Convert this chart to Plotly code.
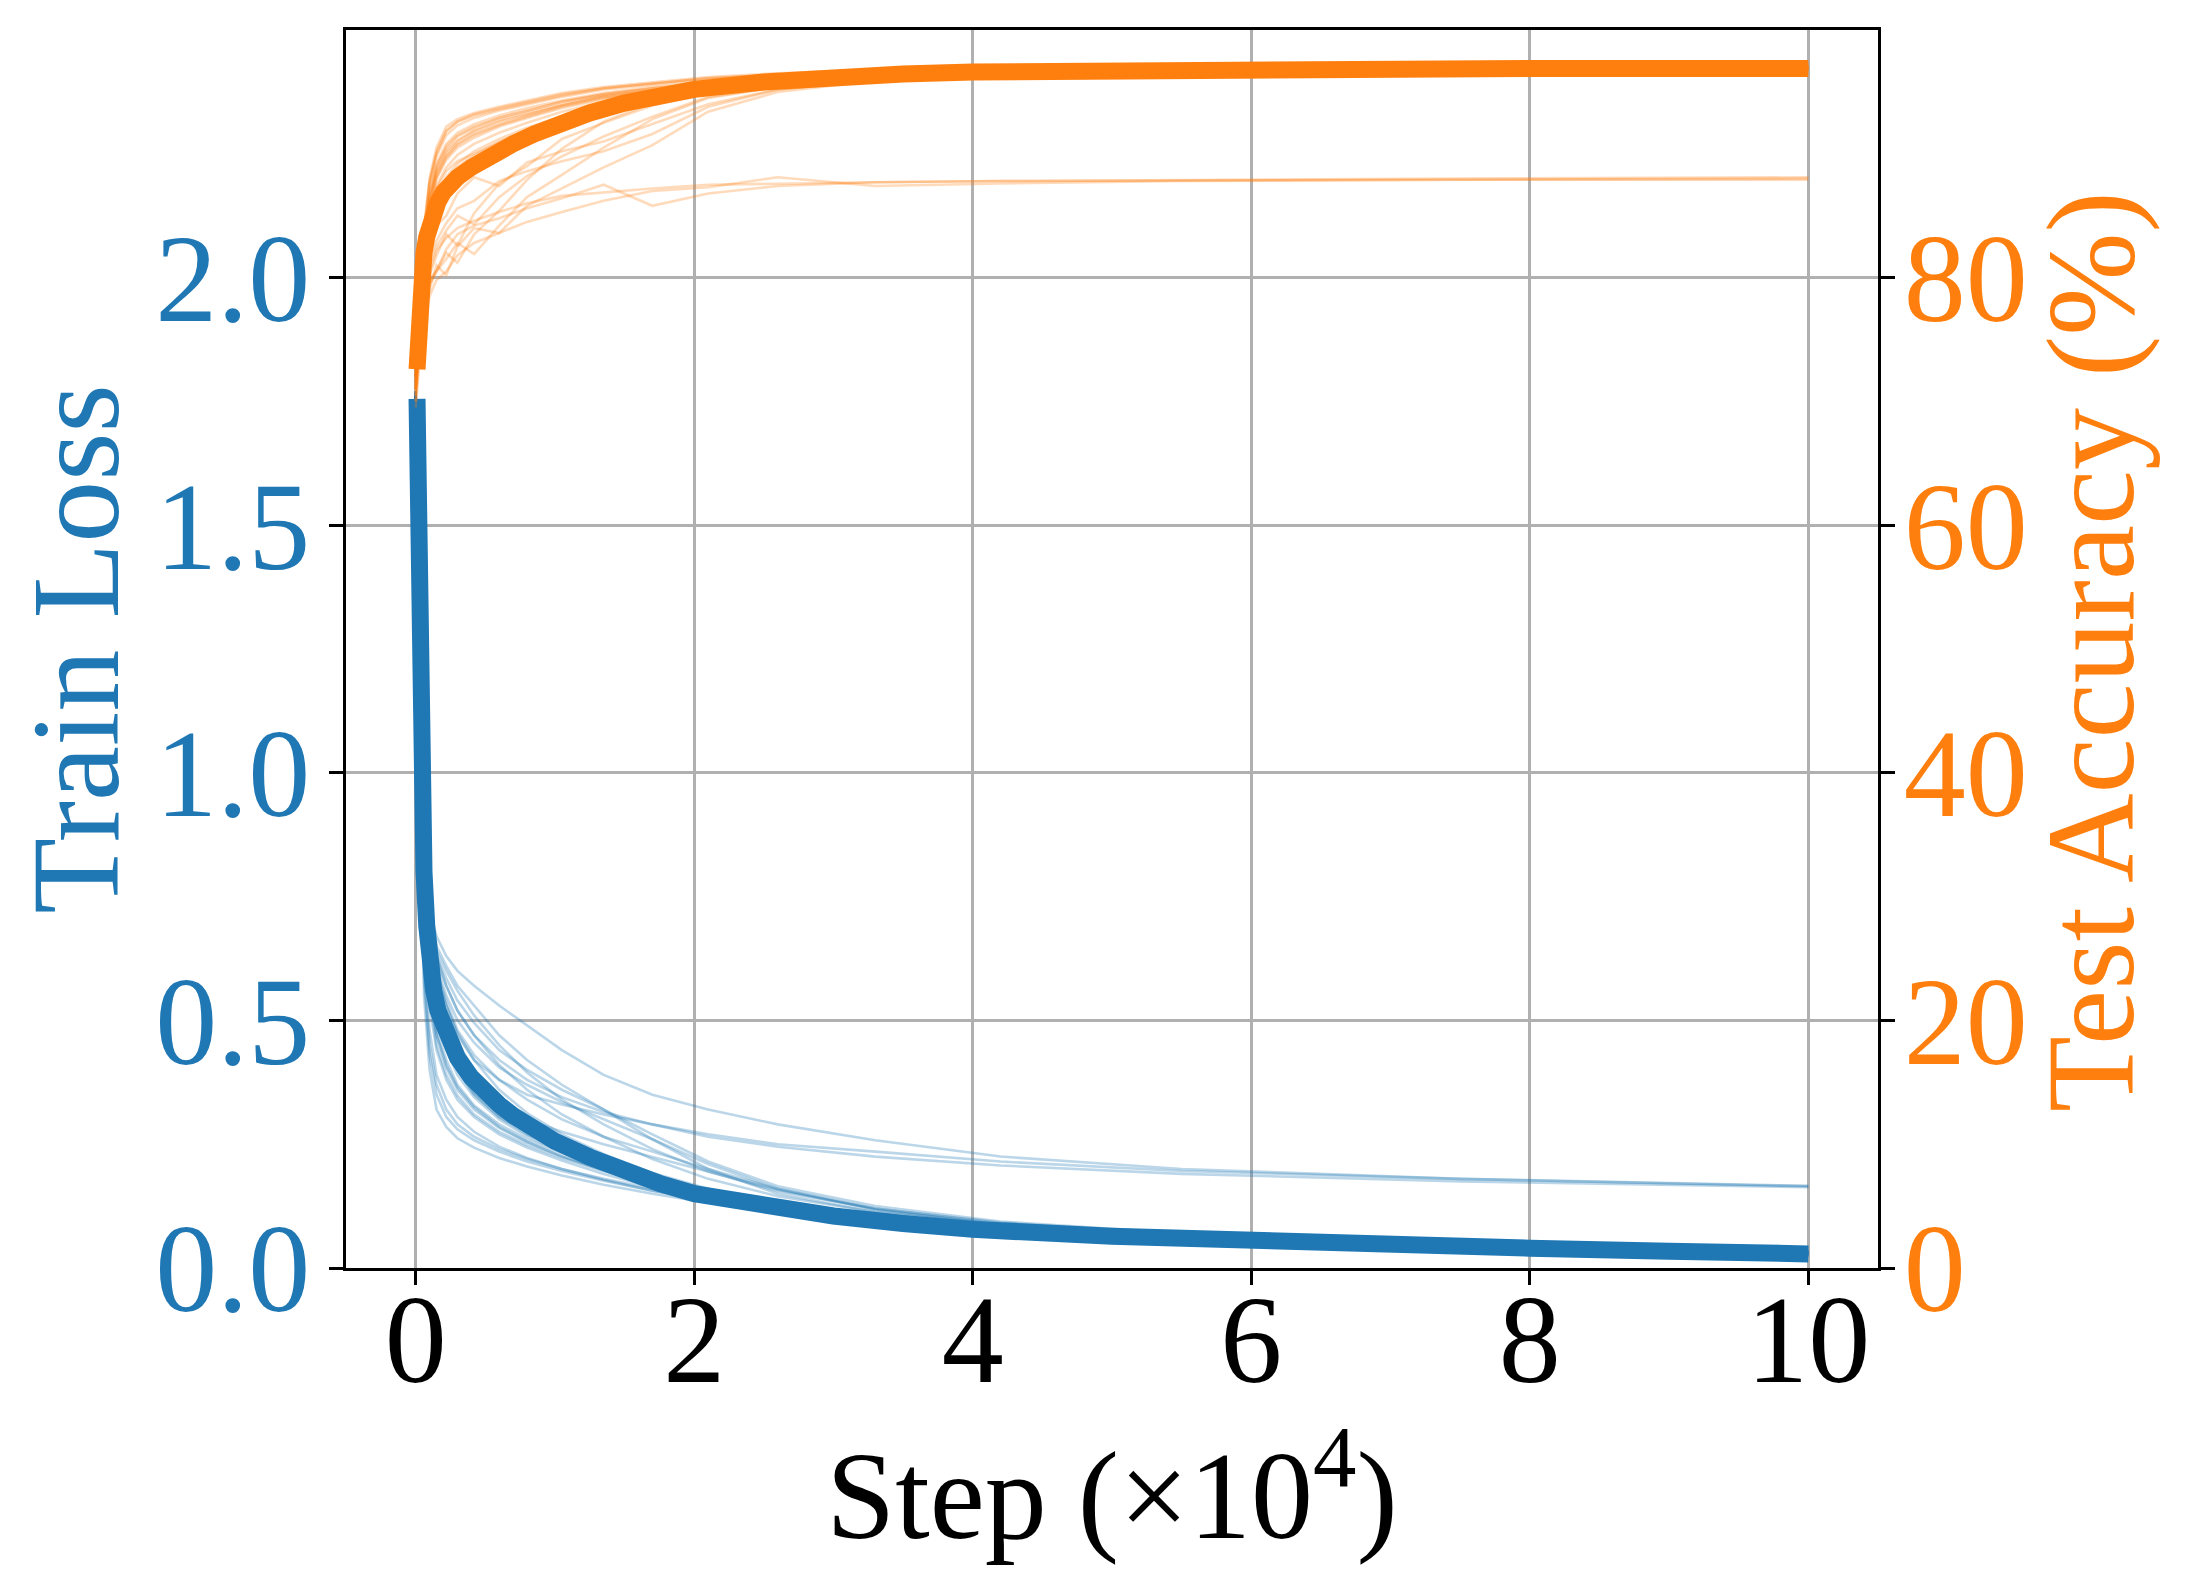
import plotly.graph_objects as go

# ---------------- data ----------------
# x positions (steps, in units of 1e4) for the averaged curves
STEP_MEAN = [0.01, 0.02, 0.03, 0.04, 0.05, 0.06, 0.08, 0.1, 0.13, 0.16, 0.2, 0.25, 0.3, 0.4, 0.5,
             0.6, 0.7, 0.85, 1.0, 1.25, 1.5, 1.75, 2.0, 2.5, 3.0, 3.5, 4.0, 5.0, 6.0, 7.0, 8.0, 9.0, 10.0]
LOSS_MEAN = [1.755, 1.45, 1.22, 1.03, 0.90, 0.80, 0.69, 0.62, 0.56, 0.52, 0.485, 0.45, 0.425, 0.385, 0.355,
             0.33, 0.308, 0.28, 0.256, 0.224, 0.196, 0.171, 0.15, 0.124, 0.105, 0.09, 0.078, 0.064, 0.054,
             0.046, 0.040, 0.034, 0.0285]
ACC_MEAN = [72.6, 75.5, 77.8, 79.6, 81.0, 82.0, 83.3, 84.2, 85.3, 86.1, 86.9, 87.6, 88.1, 88.9, 89.6,
            90.2, 90.8, 91.6, 92.3, 93.3, 94.1, 94.7, 95.2, 95.8, 96.2, 96.45, 96.6, 96.75, 96.8,
            96.85, 96.9, 96.9, 96.9]

# x positions for the individual runs
STEP_RUN = [0.0, 0.03, 0.06, 0.1, 0.15, 0.22, 0.3, 0.42, 0.6, 0.8, 1.05, 1.35, 1.7, 2.1,
            2.6, 3.3, 4.2, 5.5, 7.5, 10.0]

# individual runs: train loss
LOSS_RUNS_TYPICAL = [
    [1.76, 1.10, 0.55, 0.40, 0.32, 0.285, 0.262, 0.243, 0.222, 0.205, 0.187, 0.168, 0.150, 0.132, 0.112, 0.090, 0.068, 0.050, 0.036, 0.024],
    [1.75, 1.15, 0.62, 0.48, 0.39, 0.340, 0.305, 0.275, 0.245, 0.222, 0.200, 0.178, 0.156, 0.136, 0.115, 0.092, 0.070, 0.052, 0.037, 0.025],
    [1.77, 1.20, 0.68, 0.53, 0.44, 0.380, 0.340, 0.305, 0.270, 0.243, 0.217, 0.190, 0.163, 0.140, 0.118, 0.095, 0.073, 0.055, 0.039, 0.027],
    [1.76, 1.25, 0.72, 0.56, 0.47, 0.410, 0.365, 0.325, 0.285, 0.255, 0.225, 0.196, 0.168, 0.144, 0.121, 0.097, 0.075, 0.056, 0.040, 0.028],
    [1.76, 1.28, 0.76, 0.60, 0.50, 0.440, 0.390, 0.345, 0.300, 0.266, 0.234, 0.203, 0.173, 0.147, 0.123, 0.099, 0.077, 0.058, 0.042, 0.029],
    [1.75, 1.30, 0.80, 0.62, 0.52, 0.460, 0.410, 0.360, 0.310, 0.275, 0.240, 0.207, 0.176, 0.150, 0.125, 0.100, 0.078, 0.059, 0.043, 0.030],
    [1.77, 1.32, 0.82, 0.64, 0.55, 0.490, 0.430, 0.380, 0.330, 0.290, 0.253, 0.218, 0.184, 0.155, 0.128, 0.102, 0.079, 0.060, 0.044, 0.031],
    [1.76, 1.33, 0.84, 0.66, 0.57, 0.510, 0.455, 0.400, 0.345, 0.302, 0.262, 0.224, 0.188, 0.158, 0.130, 0.104, 0.081, 0.062, 0.045, 0.032],
    [1.76, 1.35, 0.86, 0.68, 0.59, 0.530, 0.475, 0.420, 0.360, 0.313, 0.270, 0.230, 0.192, 0.160, 0.132, 0.106, 0.083, 0.064, 0.047, 0.034],
    [1.75, 1.30, 0.80, 0.63, 0.54, 0.470, 0.400, 0.350, 0.305, 0.275, 0.245, 0.213, 0.182, 0.156, 0.130, 0.105, 0.082, 0.063, 0.046, 0.033],
    [1.77, 1.25, 0.74, 0.58, 0.48, 0.420, 0.370, 0.328, 0.290, 0.260, 0.232, 0.205, 0.178, 0.153, 0.127, 0.100, 0.076, 0.056, 0.040, 0.027],
    [1.76, 1.22, 0.70, 0.55, 0.45, 0.390, 0.348, 0.310, 0.275, 0.248, 0.222, 0.197, 0.171, 0.148, 0.124, 0.098, 0.074, 0.054, 0.038, 0.026],
    [1.76, 1.18, 0.60, 0.45, 0.37, 0.320, 0.290, 0.265, 0.240, 0.220, 0.200, 0.180, 0.160, 0.140, 0.119, 0.095, 0.072, 0.053, 0.038, 0.026],
    [1.75, 1.27, 0.75, 0.59, 0.50, 0.445, 0.400, 0.355, 0.310, 0.272, 0.238, 0.206, 0.176, 0.150, 0.126, 0.101, 0.079, 0.060, 0.044, 0.031],
    [1.76, 1.31, 0.81, 0.65, 0.56, 0.500, 0.445, 0.390, 0.335, 0.295, 0.257, 0.221, 0.186, 0.157, 0.129, 0.103, 0.080, 0.061, 0.045, 0.032],
    [1.77, 1.29, 0.78, 0.61, 0.51, 0.450, 0.400, 0.352, 0.305, 0.270, 0.237, 0.205, 0.175, 0.149, 0.124, 0.099, 0.077, 0.058, 0.042, 0.029],
    [1.76, 1.24, 0.73, 0.57, 0.47, 0.405, 0.360, 0.320, 0.283, 0.254, 0.226, 0.199, 0.172, 0.148, 0.124, 0.099, 0.076, 0.057, 0.041, 0.028],
    [1.76, 1.14, 0.58, 0.43, 0.35, 0.305, 0.280, 0.258, 0.235, 0.215, 0.196, 0.176, 0.156, 0.137, 0.117, 0.094, 0.071, 0.052, 0.037, 0.025],
]
LOSS_RUNS_SLOW = [
    [1.76, 1.38, 0.90, 0.71, 0.64, 0.600, 0.560, 0.510, 0.450, 0.395, 0.340, 0.290, 0.240, 0.195, 0.155, 0.120, 0.092, 0.068, 0.048, 0.033],
    [1.77, 1.37, 0.88, 0.70, 0.62, 0.570, 0.520, 0.470, 0.410, 0.360, 0.310, 0.265, 0.220, 0.180, 0.145, 0.113, 0.087, 0.065, 0.046, 0.032],
    [1.76, 1.36, 0.89, 0.70, 0.63, 0.585, 0.540, 0.495, 0.440, 0.400, 0.360, 0.320, 0.270, 0.215, 0.165, 0.125, 0.094, 0.070, 0.050, 0.035],
    [1.75, 1.35, 0.87, 0.69, 0.60, 0.540, 0.480, 0.430, 0.380, 0.340, 0.300, 0.265, 0.235, 0.200, 0.160, 0.120, 0.090, 0.066, 0.047, 0.033],
    [1.76, 1.34, 0.86, 0.68, 0.58, 0.510, 0.450, 0.390, 0.335, 0.300, 0.275, 0.250, 0.225, 0.195, 0.158, 0.118, 0.088, 0.065, 0.046, 0.032],
    [1.76, 1.37, 0.89, 0.70, 0.61, 0.550, 0.500, 0.455, 0.405, 0.370, 0.335, 0.300, 0.260, 0.210, 0.160, 0.118, 0.088, 0.065, 0.046, 0.032],
    [1.77, 1.38, 0.90, 0.71, 0.65, 0.610, 0.570, 0.530, 0.470, 0.420, 0.370, 0.320, 0.260, 0.200, 0.150, 0.113, 0.086, 0.064, 0.046, 0.032],
]
LOSS_RUNS_PLATEAU = [
    [1.76, 1.39, 0.92, 0.72, 0.67, 0.630, 0.600, 0.570, 0.530, 0.490, 0.440, 0.390, 0.350, 0.320, 0.290, 0.258, 0.225, 0.200, 0.180, 0.166],
    [1.77, 1.37, 0.90, 0.70, 0.63, 0.570, 0.520, 0.470, 0.420, 0.380, 0.345, 0.315, 0.290, 0.270, 0.250, 0.235, 0.215, 0.196, 0.180, 0.165],
    [1.76, 1.36, 0.88, 0.69, 0.60, 0.530, 0.470, 0.420, 0.380, 0.350, 0.330, 0.310, 0.290, 0.265, 0.245, 0.225, 0.207, 0.190, 0.175, 0.163],
]

# individual runs: test accuracy (%)
ACC_RUNS_TYPICAL = [
    [71.0, 79.0, 84.0, 88.0, 90.5, 92.2, 92.8, 93.3, 93.8, 94.3, 94.9, 95.4, 95.8, 96.2, 96.5, 96.8, 97.0, 97.1, 97.2, 97.2],
    [72.0, 78.5, 83.5, 87.5, 89.8, 91.5, 92.3, 92.9, 93.5, 94.0, 94.6, 95.2, 95.6, 96.0, 96.3, 96.6, 96.8, 97.0, 97.1, 97.1],
    [73.0, 78.0, 83.0, 86.8, 89.2, 90.8, 91.7, 92.4, 93.1, 93.7, 94.3, 94.9, 95.4, 95.8, 96.1, 96.5, 96.7, 96.9, 97.0, 97.0],
    [72.5, 77.5, 82.5, 86.2, 88.6, 90.2, 91.1, 91.9, 92.7, 93.3, 94.0, 94.7, 95.2, 95.6, 96.0, 96.4, 96.6, 96.8, 96.9, 97.0],
    [71.5, 77.0, 82.0, 85.5, 88.0, 89.5, 90.5, 91.3, 92.2, 92.9, 93.7, 94.4, 95.0, 95.5, 95.9, 96.3, 96.6, 96.8, 96.9, 96.95],
    [72.0, 77.5, 81.5, 85.0, 87.4, 88.9, 89.9, 90.8, 91.7, 92.5, 93.4, 94.2, 94.8, 95.3, 95.8, 96.2, 96.5, 96.7, 96.85, 96.9],
    [73.0, 78.0, 81.0, 84.3, 86.6, 88.1, 89.2, 90.2, 91.2, 92.1, 93.0, 93.9, 94.6, 95.2, 95.7, 96.1, 96.4, 96.6, 96.8, 96.9],
    [72.5, 77.0, 80.5, 83.5, 85.7, 87.3, 88.5, 89.6, 90.7, 91.6, 92.6, 93.6, 94.4, 95.0, 95.6, 96.0, 96.4, 96.6, 96.75, 96.85],
    [72.0, 76.5, 80.0, 82.8, 85.0, 86.6, 87.8, 89.0, 90.2, 91.2, 92.3, 93.3, 94.2, 94.9, 95.5, 96.0, 96.3, 96.6, 96.7, 96.8],
    [71.0, 77.0, 81.5, 84.8, 87.2, 88.6, 89.4, 90.0, 90.9, 91.8, 92.8, 93.7, 94.5, 95.1, 95.6, 96.1, 96.4, 96.6, 96.75, 96.8],
    [72.5, 78.0, 82.2, 85.8, 88.3, 89.8, 90.8, 91.6, 92.4, 93.1, 93.9, 94.6, 95.1, 95.6, 96.0, 96.4, 96.6, 96.8, 96.9, 96.95],
    [73.0, 78.5, 83.0, 86.5, 88.9, 90.4, 91.4, 92.1, 92.9, 93.5, 94.2, 94.8, 95.3, 95.7, 96.1, 96.5, 96.7, 96.9, 97.0, 97.05],
    [72.0, 78.8, 83.8, 87.8, 90.2, 91.9, 92.6, 93.1, 93.6, 94.1, 94.7, 95.3, 95.7, 96.1, 96.4, 96.7, 96.9, 97.05, 97.15, 97.2],
    [72.5, 77.3, 82.0, 85.7, 88.1, 89.7, 90.7, 91.5, 92.3, 93.0, 93.8, 94.5, 95.0, 95.5, 95.9, 96.3, 96.6, 96.8, 96.9, 96.95],
    [71.5, 76.8, 80.8, 84.0, 86.3, 87.8, 88.9, 89.9, 91.0, 91.9, 92.9, 93.8, 94.6, 95.2, 95.7, 96.1, 96.4, 96.6, 96.8, 96.85],
    [73.0, 77.8, 82.3, 86.0, 88.5, 90.0, 91.0, 91.8, 92.6, 93.2, 93.9, 94.6, 95.1, 95.6, 96.0, 96.4, 96.6, 96.8, 96.9, 97.0],
    [72.0, 78.2, 82.8, 86.6, 89.0, 90.6, 91.5, 92.2, 92.9, 93.5, 94.2, 94.8, 95.3, 95.8, 96.1, 96.5, 96.7, 96.9, 97.0, 97.05],
    [71.0, 78.8, 83.6, 87.6, 90.0, 91.8, 92.6, 93.2, 93.7, 94.2, 94.8, 95.3, 95.7, 96.1, 96.4, 96.7, 96.9, 97.05, 97.15, 97.15],
]
ACC_RUNS_SLOW = [
    [70.0, 75.0, 77.5, 79.5, 80.5, 81.5, 82.8, 81.9, 84.2, 86.5, 88.3, 90.5, 92.8, 94.5, 95.4, 96.0, 96.3, 96.5, 96.7, 96.8],
    [71.0, 76.0, 78.5, 80.2, 81.8, 83.5, 82.6, 85.2, 87.6, 89.0, 91.2, 92.5, 93.9, 95.0, 95.6, 96.1, 96.4, 96.6, 96.7, 96.8],
    [70.5, 75.5, 78.0, 79.0, 81.0, 80.2, 82.5, 84.0, 83.6, 85.8, 87.2, 88.9, 90.7, 93.4, 95.0, 95.9, 96.3, 96.5, 96.7, 96.8],
    [71.5, 76.5, 79.5, 81.5, 83.0, 84.4, 85.6, 86.2, 87.8, 88.6, 89.4, 90.2, 91.6, 93.8, 95.2, 95.9, 96.3, 96.5, 96.7, 96.8],
    [72.0, 77.0, 80.0, 82.5, 84.2, 85.0, 86.8, 88.1, 87.4, 89.3, 90.2, 91.0, 92.4, 94.0, 95.2, 95.9, 96.3, 96.5, 96.7, 96.8],
    [70.5, 76.0, 79.0, 81.0, 82.5, 83.8, 85.0, 84.3, 86.5, 88.2, 89.8, 91.4, 93.0, 94.6, 95.4, 96.0, 96.3, 96.5, 96.7, 96.8],
    [71.0, 75.5, 78.2, 79.8, 80.6, 82.0, 81.2, 83.5, 85.4, 87.9, 90.4, 92.6, 94.1, 95.1, 95.7, 96.1, 96.4, 96.6, 96.7, 96.8],
]
ACC_RUNS_PLATEAU = [
    [69.5, 73.5, 76.5, 78.5, 79.8, 80.5, 81.8, 82.8, 83.6, 84.5, 85.3, 86.2, 87.0, 87.3, 88.1, 87.4, 87.6, 87.8, 87.9, 88.0],
    [70.0, 74.5, 77.5, 79.5, 80.5, 82.3, 83.5, 84.2, 84.8, 85.6, 86.4, 87.5, 85.8, 86.8, 87.4, 87.7, 87.8, 87.9, 88.0, 88.1],
    [71.0, 75.0, 78.0, 80.5, 82.2, 83.2, 84.0, 84.6, 85.3, 86.0, 86.6, 86.9, 87.2, 87.5, 87.6, 87.7, 87.8, 87.85, 87.9, 87.9],
]

X_TICKS = [0, 2, 4, 6, 8, 10]
LOSS_TICKS = [0.0, 0.5, 1.0, 1.5, 2.0]
ACC_TICKS = [0, 20, 40, 60, 80]

# ---------------- style ----------------
BLUE = "#1f77b4"
ORANGE = "#ff7f0e"
BLUE_THIN = "rgba(31,119,180,0.3)"
ORANGE_THIN = "rgba(255,127,14,0.28)"
FONT = "Liberation Serif, Times New Roman, serif"
FS = 124
THIN_W = 2.6
THICK_W = 17

fig = go.Figure()

for run in LOSS_RUNS_TYPICAL + LOSS_RUNS_SLOW + LOSS_RUNS_PLATEAU:
    fig.add_trace(go.Scatter(x=STEP_RUN, y=run, mode="lines", yaxis="y",
                             line=dict(color=BLUE_THIN, width=THIN_W),
                             showlegend=False, hoverinfo="skip"))
fig.add_trace(go.Scatter(x=STEP_MEAN, y=LOSS_MEAN, mode="lines", yaxis="y",
                         line=dict(color=BLUE, width=THICK_W), name="Train Loss",
                         showlegend=False))

for run in ACC_RUNS_TYPICAL + ACC_RUNS_SLOW + ACC_RUNS_PLATEAU:
    fig.add_trace(go.Scatter(x=STEP_RUN, y=run, mode="lines", yaxis="y2",
                             line=dict(color=ORANGE_THIN, width=THIN_W),
                             showlegend=False, hoverinfo="skip"))
fig.add_trace(go.Scatter(x=STEP_MEAN, y=ACC_MEAN, mode="lines", yaxis="y2",
                         line=dict(color=ORANGE, width=THICK_W), name="Test Accuracy",
                         showlegend=False))

axis_common = dict(showline=True, linecolor="black", linewidth=3, ticks="outside",
                   ticklen=14, tickwidth=3, tickcolor="black", zeroline=False)

# the page adds an 8 px body margin, so the figure is 8 px smaller than the window
fig.update_layout(
    width=2182, height=1582,
    template="none",
    paper_bgcolor="white", plot_bgcolor="white",
    margin=dict(l=338, r=312, t=22, b=322, autoexpand=False),
    font=dict(family=FONT, size=FS, color="black"),
    showlegend=False,
    xaxis=dict(range=[-0.5, 10.5], tickvals=X_TICKS, ticktext=[str(v) for v in X_TICKS],
               showgrid=True, gridcolor="#b0b0b0", gridwidth=3, mirror=True,
               tickfont=dict(family=FONT, size=FS, color="black"), ticklabelstandoff=-52,
               title=dict(text="Step (\u00d710<sup>4</sup>)", font=dict(family=FONT, size=FS, color="black"),
                          standoff=44),
               **axis_common),
    yaxis=dict(range=[0, 2.5], tickvals=LOSS_TICKS, ticktext=[f"{v:.1f}" for v in LOSS_TICKS],
               showgrid=True, gridcolor="#b0b0b0", gridwidth=3, ticklabelstandoff=-6,
               tickfont=dict(family=FONT, size=FS, color=BLUE),
               title=dict(text="Train Loss", font=dict(family=FONT, size=FS, color=BLUE), standoff=30),
               **axis_common),
    yaxis2=dict(range=[0, 100], tickvals=ACC_TICKS, ticktext=[str(v) for v in ACC_TICKS],
                overlaying="y", side="right", showgrid=False, ticklabelstandoff=-16,
                tickfont=dict(family=FONT, size=FS, color=ORANGE),
                **axis_common),
    annotations=[dict(text="Test Accuracy (%)", xref="paper", yref="paper",
                      x=1.1397, y=0.4976, xanchor="center", yanchor="middle",
                      textangle=-90, showarrow=False,
                      font=dict(family=FONT, size=FS, color=ORANGE))],
)

fig.write_html("out.html")
